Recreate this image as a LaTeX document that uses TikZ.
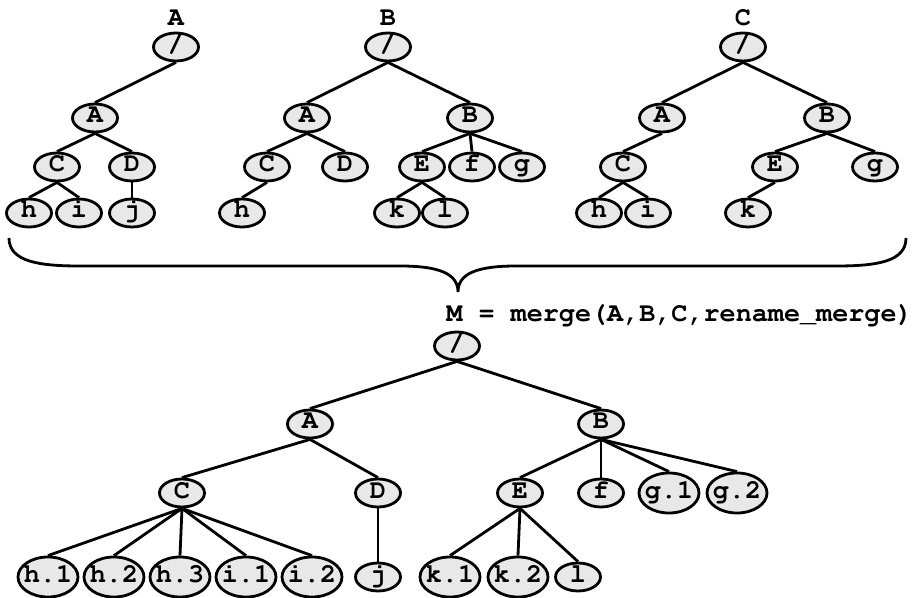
\documentclass[tikz,border=0pt]{standalone}
\usepackage[T1]{fontenc}
\usepackage{courier}
\usetikzlibrary{shapes.geometric}

\definecolor{nodegray}{HTML}{E8E8E8}

\tikzset{
  tn/.style={ellipse, draw, fill=nodegray, line width=1.4pt,
    inner xsep=-1.5pt, inner ysep=0pt, text height=6.5pt, text depth=1.5pt,
    minimum width=22.5pt, minimum height=14pt,
    font=\ttfamily\bfseries\fontsize{13.4}{13.4}\selectfont},
  tnw/.style={tn, minimum width=30pt, minimum height=20pt},
  link/.style={line width=1.4pt},
  title/.style={inner sep=0pt, font=\ttfamily\bfseries\fontsize{13.4}{13.4}\selectfont}
}

\begin{document}
\begin{tikzpicture}[x=0.5pt, y=-0.5pt, node distance=25pt]
  \useasboundingbox (0,0) rectangle (915,598);

  % tree A
  \node[tn] (aR) at (176,47) {/};
  \node[title, above of=aR, node distance=14.5pt] (ta) {A};
  \node[tn] (aA) at (95,118) {A};
  \node[tn] (aC) at (57,167) {C};
  \node[tn] (aD) at (132,167) {D};
  \node[tn] (ah) at (29,213) {h};
  \node[tn, right of=ah] (ai) {i};
  \node[tn] (aj) at (132,213) {j};

  \draw[link] (aR.south) -- (aA.north);
  \draw[link] (aA.south) -- (aC.north);
  \draw[link] (aA.south) -- (aD.north);
  \draw[link] (aC.south) -- (ah.north);
  \draw[link] (aC.south) -- (ai.north);
  \draw[link] (aD.south) -- (aj.north);

  % tree B
  \node[tn] (bR) at (388,47) {/};
  \node[title, above of=bR, node distance=14.5pt] (tb) {B};
  \node[tn] (bA) at (307,118) {A};
  \node[tn] (bB) at (470,118) {B};
  \node[tn] (bC) at (267,167) {C};
  \node[tn] (bD) at (345,167) {D};
  \node[tn] (bE) at (422,167) {E};
  \node[tn, right of=bE] (bf) {f};
  \node[tn, right of=bf] (bg) {g};
  \node[tn] (bh) at (242,213) {h};
  \node[tn] (bk) at (397,213) {k};
  \node[tn, right of=bk, node distance=24pt] (bl) {l};

  \draw[link] (bR.south) -- (bA.north);
  \draw[link] (bR.south) -- (bB.north);
  \draw[link] (bA.south) -- (bC.north);
  \draw[link] (bA.south) -- (bD.north);
  \draw[link] (bB.south) -- (bE.north);
  \draw[link] (bB.south) -- (bf.north);
  \draw[link] (bB.south) -- (bg.north);
  \draw[link] (bC.south) -- (bh.north);
  \draw[link] (bE.south) -- (bk.north);
  \draw[link] (bE.south) -- (bl.north);

  % tree C
  \node[tn] (cR) at (743,47) {/};
  \node[title, above of=cR, node distance=14.5pt] (tc) {C};
  \node[tn] (cA) at (662,118) {A};
  \node[tn] (cB) at (827,118) {B};
  \node[tn] (cC) at (623,167) {C};
  \node[tn] (cE) at (775,167) {E};
  \node[tn] (cg) at (875,167) {g};
  \node[tn] (ch) at (599,213) {h};
  \node[tn, right of=ch, node distance=24.5pt] (ci) {i};
  \node[tn] (ck) at (748,213) {k};

  \draw[link] (cR.south) -- (cA.north);
  \draw[link] (cR.south) -- (cB.north);
  \draw[link] (cA.south) -- (cC.north);
  \draw[link] (cB.south) -- (cE.north);
  \draw[link] (cB.south) -- (cg.north);
  \draw[link] (cC.south) -- (ch.north);
  \draw[link] (cC.south) -- (ci.north);
  \draw[link] (cE.south) -- (ck.north);

  % brace
  \draw[link] (9,238) .. controls (9,262) and (40,266) .. (80,266) -- (400,266)
    .. controls (440,266) and (458,274) .. (458,292)
    .. controls (458,274) and (476,266) .. (516,266) -- (836,266)
    .. controls (876,266) and (906,262) .. (906,238);

  % merged tree
  \node[title, anchor=west] (tm) at (446,315) {M = merge(A,B,C,rename\_merge)};
  \node[tn] (mR) at (457,346) {/};
  \node[tn] (mA) at (310,424) {A};
  \node[tn] (mB) at (601,424) {B};
  \node[tn] (mC) at (182,493) {C};
  \node[tn] (mD) at (378,493) {D};
  \node[tn] (mE) at (520,493) {E};
  \node[tn] (mf) at (601,493) {f};
  \node[tnw] (mg1) at (669,493) {g.1};
  \node[tnw, right of=mg1, node distance=34pt] (mg2) {g.2};

  \node[tnw] (mh1) at (48,577) {h.1};
  \node[tnw, right of=mh1, node distance=33pt] (mh2) {h.2};
  \node[tnw, right of=mh2, node distance=33pt] (mh3) {h.3};
  \node[tnw, right of=mh3, node distance=33pt] (mi1) {i.1};
  \node[tnw, right of=mi1, node distance=33pt] (mi2) {i.2};
  \node[tn] (mj) at (378,577) {j};
  \node[tnw] (mk1) at (450,577) {k.1};
  \node[tnw] (mk2) at (518,577) {k.2};
  \node[tn] (ml) at (578,577) {l};

  \draw[link] (mR.south) -- (mA.north);
  \draw[link] (mR.south) -- (mB.north);
  \draw[link] (mA.south) -- (mC.north);
  \draw[link] (mA.south) -- (mD.north);
  \draw[link] (mB.south) -- (mE.north);
  \draw[link] (mB.south) -- (mf.north);
  \draw[link] (mB.south) -- (mg1.north);
  \draw[link] (mB.south) -- (mg2.north);
  \draw[link] (mC.south) -- (mh1.north);
  \draw[link] (mC.south) -- (mh2.north);
  \draw[link] (mC.south) -- (mh3.north);
  \draw[link] (mC.south) -- (mi1.north);
  \draw[link] (mC.south) -- (mi2.north);
  \draw[link] (mD.south) -- (mj.north);
  \draw[link] (mE.south) -- (mk1.north);
  \draw[link] (mE.south) -- (mk2.north);
  \draw[link] (mE.south) -- (ml.north);

\end{tikzpicture}
\end{document}
